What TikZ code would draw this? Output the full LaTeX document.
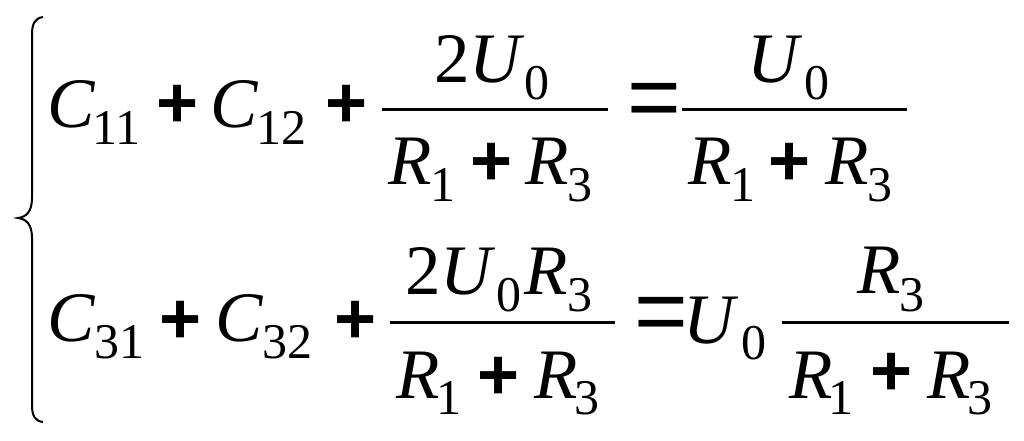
\documentclass[tikz,border=0pt]{standalone}
\usepackage{fontspec}
\setmainfont{Liberation Serif}
\newfontfamily\opfont{Liberation Sans}
\begin{document}
\begin{tikzpicture}[x=1pt,y=-1pt,
  every node/.style={inner sep=0pt,outer sep=0pt},
  mv/.style={anchor=base west,font=\itshape\fontsize{71}{71}\selectfont},
  dg/.style={anchor=base west,font=\fontsize{71}{71}\selectfont},
  sb/.style={anchor=base west,font=\fontsize{50}{50}\selectfont},
  pl/.style={anchor=center,font=\opfont\bfseries\fontsize{72}{72}\selectfont},
  eq/.style={anchor=center,font=\opfont\fontsize{92}{92}\selectfont},
  bar/.style={line width=3pt},
  brace/.style={line width=2pt}]
\useasboundingbox (0,0) rectangle (1024,440);
\fill[white] (0,0) rectangle (1024,440);
% brace
\draw[brace] (43,17) .. controls (35,18) and (32,24) .. (32,34) -- (32,198)
  .. controls (32,212) and (26,217) .. (18,218)
  .. controls (26,219) and (32,224) .. (32,238) -- (32,405)
  .. controls (32,416) and (35,421) .. (43,422);
% ---- row 1 ----
\node[mv] (c11) at (47,127) {C};
\node[sb] (s11) at (92,144) {11};
\node[pl] (p11) at (178,106) {+};
\node[mv] (c12) at (210,127) {C};
\node[sb] (s12) at (256,144) {12};
\node[pl] (p12) at (347,106) {+};
\coordinate (b1a) at (382,109); \coordinate (b1b) at (608,109);
\draw[bar] (b1a) -- (b1b);
\node[dg] (n1two) at (434,82) {2};
\node[mv] (n1u) at (469,82) {U};
\node[sb] (n1z) at (524,99) {0};
\node[mv] (d1r) at (388,184) {R};
\node[sb] (d1s1) at (430,201) {1};
\node[pl] (d1p) at (492,164) {+};
\node[mv] (d1r3) at (525,184) {R};
\node[sb] (d1s3) at (567,201) {3};
\node[eq] (e1) at (654,106) {=};
\coordinate (b2a) at (682,109); \coordinate (b2b) at (907,109);
\draw[bar] (b2a) -- (b2b);
\node[mv] (n2u) at (747,82) {U};
\node[sb] (n2z) at (804,99) {0};
\node[mv] (d2r) at (688,184) {R};
\node[sb] (d2s1) at (730,201) {1};
\node[pl] (d2p) at (790,164) {+};
\node[mv] (d2r3) at (825,184) {R};
\node[sb] (d2s3) at (867,201) {3};
% ---- row 2 ----
\node[mv] (c31) at (47,341) {C};
\node[sb] (s31) at (94,358) {31};
\node[pl] (p21) at (181,322) {+};
\node[mv] (c32) at (215,341) {C};
\node[sb] (s32) at (262,358) {32};
\node[pl] (p22) at (356,322) {+};
\coordinate (b3a) at (390,322); \coordinate (b3b) at (615,322);
\draw[bar] (b3a) -- (b3b);
\node[dg] (n3two) at (405,294) {2};
\node[mv] (n3u) at (440,294) {U};
\node[sb] (n3z) at (496,311) {0};
\node[mv] (n3r) at (524,294) {R};
\node[sb] (n3s) at (567,311) {3};
\node[mv] (d3r) at (396,398) {R};
\node[sb] (d3s1) at (436,414) {1};
\node[pl] (d3p) at (499,378) {+};
\node[mv] (d3r3) at (534,398) {R};
\node[sb] (d3s3) at (574,414) {3};
\node[eq] (e2) at (661,320) {=};
\node[mv] (u2) at (683,343) {U};
\node[sb] (u2z) at (741,359) {0};
\coordinate (b4a) at (782,322); \coordinate (b4b) at (1009,322);
\draw[bar] (b4a) -- (b4b);
\node[mv] (n4r) at (857,293) {R};
\node[sb] (n4s) at (899,311) {3};
\node[mv] (d4r) at (789,398) {R};
\node[sb] (d4s1) at (828,414) {1};
\node[pl] (d4p) at (892,374) {+};
\node[mv] (d4r3) at (927,398) {R};
\node[sb] (d4s3) at (967,414) {3};
\end{tikzpicture}
\end{document}
